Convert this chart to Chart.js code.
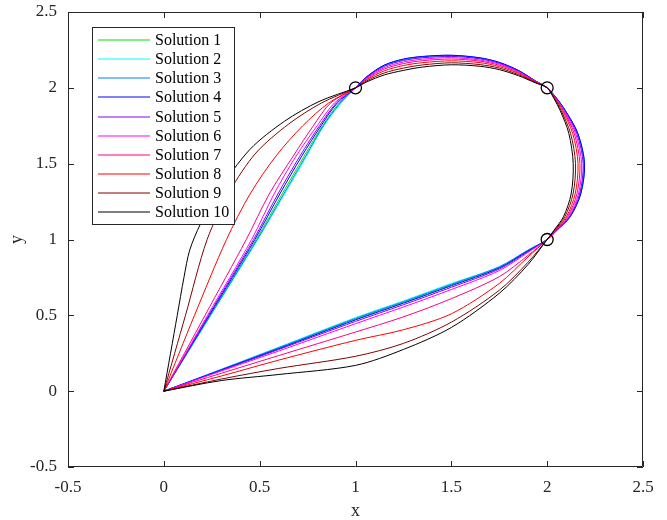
<!DOCTYPE html>
<html>
<head>
<meta charset="utf-8">
<script src="https://cdn.jsdelivr.net/npm/chart.js@4.4.1/dist/chart.umd.min.js"></script>
<style>
  html, body { margin: 0; padding: 0; background: #fff; }
  #wrap { width: 667px; height: 520px; }
</style>
</head>
<body>
<div id="wrap"><canvas id="pathChart"></canvas></div>
<script>
// Ten candidate paths through the waypoints, each as [x, y] pairs:
// start at the origin, up to (1,2), over the top to (2,2), round to (2,1), back to the origin.
const solution1 = [[0,0],[0.24,0.5],[0.482,1.0],[0.617,1.3],[0.732,1.55],[0.828,1.75],[0.915,1.9],[1,2],
  [1.06,2.073],[1.15,2.145],[1.25,2.185],[1.35,2.202],[1.5,2.211],[1.65,2.194],[1.75,2.165],[1.85,2.113],[1.94,2.044],[2,2],
  [2.049,1.93],[2.093,1.85],[2.157,1.7],[2.191,1.5],[2.172,1.3],[2.118,1.15],[2.049,1.06],[2,1],
  [1.9,0.925],[1.75,0.815],[1.5,0.70],[1.25,0.585],[1.0,0.475],[0.6,0.283],[0.3,0.141],[0,0]];
const solution2 = [[0,0],[0.245,0.5],[0.49,1.0],[0.63,1.3],[0.745,1.55],[0.835,1.75],[0.925,1.9],[1,2],
  [1.06,2.074],[1.15,2.147],[1.25,2.187],[1.35,2.204],[1.5,2.212],[1.65,2.196],[1.75,2.166],[1.85,2.114],[1.94,2.044],[2,2],
  [2.05,1.93],[2.094,1.85],[2.159,1.7],[2.193,1.5],[2.174,1.3],[2.119,1.15],[2.05,1.06],[2,1],
  [1.9,0.93],[1.75,0.82],[1.5,0.71],[1.25,0.595],[1.0,0.485],[0.6,0.29],[0.3,0.145],[0,0]];
const solution3 = [[0,0],[0.243,0.5],[0.487,1.0],[0.625,1.3],[0.74,1.55],[0.832,1.75],[0.92,1.9],[1,2],
  [1.06,2.074],[1.15,2.149],[1.25,2.188],[1.35,2.206],[1.5,2.214],[1.65,2.197],[1.75,2.167],[1.85,2.114],[1.94,2.045],[2,2],
  [2.05,1.93],[2.095,1.85],[2.16,1.7],[2.195,1.5],[2.175,1.3],[2.12,1.15],[2.05,1.06],[2,1],
  [1.9,0.93],[1.75,0.82],[1.5,0.705],[1.25,0.59],[1.0,0.48],[0.6,0.287],[0.3,0.143],[0,0]];
const solution4 = [[0,0],[0.237,0.5],[0.475,1.0],[0.605,1.3],[0.72,1.55],[0.82,1.75],[0.905,1.9],[1,2],
  [1.06,2.075],[1.15,2.15],[1.25,2.19],[1.35,2.207],[1.5,2.215],[1.65,2.198],[1.75,2.168],[1.85,2.115],[1.94,2.045],[2,2],
  [2.05,1.93],[2.095,1.85],[2.16,1.7],[2.195,1.5],[2.175,1.3],[2.12,1.15],[2.05,1.06],[2,1],
  [1.9,0.925],[1.75,0.812],[1.5,0.695],[1.25,0.58],[1.0,0.47],[0.6,0.28],[0.3,0.14],[0,0]];
const solution5 = [[0,0],[0.233,0.5],[0.468,1.0],[0.595,1.3],[0.71,1.55],[0.812,1.75],[0.90,1.9],[1,2],
  [1.06,2.07],[1.15,2.142],[1.25,2.18],[1.35,2.198],[1.5,2.207],[1.65,2.191],[1.75,2.162],[1.85,2.11],[1.94,2.043],[2,2],
  [2.048,1.93],[2.092,1.85],[2.154,1.7],[2.188,1.5],[2.169,1.3],[2.116,1.15],[2.048,1.06],[2,1],
  [1.9,0.92],[1.75,0.805],[1.5,0.685],[1.25,0.57],[1.0,0.46],[0.6,0.275],[0.3,0.137],[0,0]];
const solution6 = [[0,0],[0.228,0.5],[0.458,1.0],[0.575,1.3],[0.69,1.55],[0.80,1.75],[0.89,1.9],[1,2],
  [1.06,2.066],[1.15,2.133],[1.25,2.17],[1.35,2.189],[1.5,2.199],[1.65,2.183],[1.75,2.156],[1.85,2.106],[1.94,2.042],[2,2],
  [2.046,1.93],[2.088,1.85],[2.148,1.7],[2.18,1.5],[2.163,1.3],[2.111,1.15],[2.046,1.06],[2,1],
  [1.9,0.915],[1.75,0.795],[1.5,0.67],[1.25,0.555],[1.0,0.445],[0.6,0.265],[0.3,0.133],[0,0]];
const solution7 = [[0,0],[0.215,0.5],[0.43,1.0],[0.55,1.3],[0.675,1.55],[0.78,1.75],[0.87,1.9],[1,2],
  [1.06,2.061],[1.15,2.124],[1.25,2.16],[1.35,2.179],[1.5,2.19],[1.65,2.176],[1.75,2.149],[1.85,2.101],[1.94,2.04],[2,2],
  [2.044,1.93],[2.084,1.85],[2.141,1.7],[2.171,1.5],[2.155,1.3],[2.106,1.15],[2.044,1.06],[2,1],
  [1.9,0.895],[1.75,0.755],[1.5,0.61],[1.25,0.49],[1.0,0.39],[0.6,0.235],[0.3,0.118],[0,0]];
const solution8 = [[0,0],[0.16,0.5],[0.327,1.0],[0.45,1.3],[0.585,1.55],[0.725,1.75],[0.86,1.9],[1,2],
  [1.06,2.055],[1.15,2.112],[1.25,2.147],[1.35,2.166],[1.5,2.178],[1.65,2.166],[1.75,2.14],[1.85,2.095],[1.94,2.037],[2,2],
  [2.041,1.93],[2.079,1.85],[2.133,1.7],[2.161,1.5],[2.146,1.3],[2.1,1.15],[2.041,1.06],[2,1],
  [1.9,0.885],[1.75,0.71],[1.5,0.51],[1.25,0.405],[1.0,0.335],[0.6,0.205],[0.3,0.10],[0,0]];
const solution9 = [[0,0],[0.113,0.5],[0.226,1.0],[0.345,1.32],[0.48,1.57],[0.65,1.76],[0.822,1.9],[1,2],
  [1.06,2.047],[1.15,2.098],[1.25,2.13],[1.35,2.151],[1.5,2.165],[1.65,2.153],[1.75,2.13],[1.85,2.087],[1.94,2.035],[2,2],
  [2.038,1.93],[2.073,1.85],[2.122,1.7],[2.148,1.5],[2.135,1.3],[2.092,1.15],[2.038,1.06],[2,1],
  [1.9,0.85],[1.75,0.665],[1.5,0.455],[1.25,0.315],[1.0,0.23],[0.6,0.15],[0.3,0.08],[0,0]];
const solution10 = [[0,0],[0.07,0.5],[0.105,0.75],[0.135,0.93],[0.19,1.10],[0.28,1.31],[0.45,1.595],[0.63,1.78],[0.81,1.91],[1,2],
  [1.06,2.04],[1.15,2.085],[1.25,2.115],[1.35,2.137],[1.5,2.152],[1.65,2.142],[1.75,2.12],[1.85,2.08],[1.94,2.032],[2,2],
  [2.035,1.93],[2.068,1.85],[2.113,1.7],[2.136,1.5],[2.125,1.3],[2.085,1.15],[2.035,1.06],[2,1],
  [1.9,0.835],[1.75,0.645],[1.5,0.42],[1.25,0.275],[1.0,0.17],[0.6,0.11],[0.3,0.07],[0,0]];

const waypoints = [[1,2],[2,2],[2,1]];

const solutions = [solution1, solution2, solution3, solution4, solution5,
                   solution6, solution7, solution8, solution9, solution10];
const solutionLabels = ['Solution 1','Solution 2','Solution 3','Solution 4','Solution 5',
                        'Solution 6','Solution 7','Solution 8','Solution 9','Solution 10'];
const solutionColors = ['#00e000','#00ffff','#0080ff','#0000ff','#8000ff',
                        '#ff00ff','#ff0080','#ff0000','#800000','#000000'];

const axisTicks = [-0.5, 0, 0.5, 1, 1.5, 2, 2.5];

const serif = '"Liberation Serif", "Times New Roman", serif';
const axisInk = '#262626';

const toXY = pts => pts.map(p => ({ x: p[0], y: p[1] }));

const datasets = solutions.map((pts, i) => ({
  label: solutionLabels[i],
  data: toXY(pts),
  showLine: true,
  borderColor: solutionColors[i],
  backgroundColor: solutionColors[i],
  borderWidth: 1,
  pointRadius: 0,
  tension: 0.3,
  order: solutions.length - i   // later solutions sit on top
}));

datasets.push({
  label: 'waypoints',
  data: toXY(waypoints),
  showLine: false,
  pointStyle: 'circle',
  pointRadius: 6,
  pointBorderWidth: 1.3,
  pointBorderColor: '#000',
  pointBackgroundColor: 'rgba(0,0,0,0)',
  order: 0
});

// box round the plot with inward ticks on all four sides
const boxedAxes = {
  id: 'boxedAxes',
  afterDatasetsDraw(chart) {
    const { ctx, chartArea: a, scales: { x, y } } = chart;
    const len = 6;
    ctx.save();
    ctx.strokeStyle = axisInk;
    ctx.lineWidth = 1;
    ctx.beginPath();
    ctx.rect(a.left + 0.5, a.top + 0.5, a.right - a.left - 1, a.bottom - a.top - 1);
    x.ticks.forEach(t => {
      const px = Math.round(x.getPixelForValue(t.value)) + 0.5;
      ctx.moveTo(px, a.bottom); ctx.lineTo(px, a.bottom - len);
      ctx.moveTo(px, a.top); ctx.lineTo(px, a.top + len);
    });
    y.ticks.forEach(t => {
      const py = Math.round(y.getPixelForValue(t.value)) + 0.5;
      ctx.moveTo(a.left, py); ctx.lineTo(a.left + len, py);
      ctx.moveTo(a.right, py); ctx.lineTo(a.right - len, py);
    });
    ctx.stroke();
    ctx.restore();
  }
};

// legend box in the upper-left corner of the plot
const insetLegend = {
  id: 'insetLegend',
  afterDraw(chart) {
    const { ctx, chartArea: a } = chart;
    const left = a.left + 24, top = a.top + 15, w = 142, h = 197;
    const row = 19.15, first = 13;
    ctx.save();
    ctx.fillStyle = '#fff';
    ctx.fillRect(left, top, w, h);
    ctx.strokeStyle = axisInk;
    ctx.lineWidth = 1;
    ctx.strokeRect(left + 0.5, top + 0.5, w, h);
    ctx.font = '16px ' + serif;
    ctx.textBaseline = 'middle';
    ctx.textAlign = 'left';
    chart.data.datasets.forEach((ds, i) => {
      if (!solutionLabels.includes(ds.label)) return;
      const yy = Math.round(top + first + i * row);
      ctx.strokeStyle = ds.borderColor;
      ctx.beginPath();
      ctx.moveTo(left + 6, yy);
      ctx.lineTo(left + 58, yy);
      ctx.stroke();
      ctx.fillStyle = '#000';
      ctx.fillText(ds.label, left + 63, yy + 0.5);
    });
    ctx.restore();
  }
};

new Chart(document.getElementById('pathChart'), {
  type: 'scatter',
  data: { datasets },
  options: {
    responsive: true,
    maintainAspectRatio: false,
    animation: false,
    layout: { autoPadding: false, padding: { top: 12, right: 24, left: 0, bottom: 0 } },
    plugins: {
      legend: { display: false },
      tooltip: { enabled: false }
    },
    scales: {
      x: {
        type: 'linear',
        min: axisTicks[0],
        max: axisTicks[axisTicks.length - 1],
        afterBuildTicks: s => { s.ticks = axisTicks.map(v => ({ value: v })); },
        afterFit: s => { s.height = 53; s.paddingLeft = 0; s.paddingRight = 0; },
        grid: { display: false, drawTicks: false },
        border: { display: false },
        ticks: {
          padding: 10,
          color: axisInk,
          maxRotation: 0,
          autoSkip: false,
          font: { family: serif, size: 17 },
          callback: v => String(v)
        },
        title: {
          display: true,
          text: 'x',
          color: axisInk,
          font: { family: serif, size: 18, lineHeight: 1 },
          padding: { top: 0, bottom: 0 }
        }
      },
      y: {
        type: 'linear',
        min: axisTicks[0],
        max: axisTicks[axisTicks.length - 1],
        afterBuildTicks: s => { s.ticks = axisTicks.map(v => ({ value: v })); },
        afterFit: s => { s.width = 68; s.paddingTop = 0; s.paddingBottom = 0; },
        grid: { display: false, drawTicks: false },
        border: { display: false },
        ticks: {
          padding: 11,
          color: axisInk,
          autoSkip: false,
          font: { family: serif, size: 17 },
          callback: v => String(v)
        },
        title: {
          display: true,
          text: 'y',
          color: axisInk,
          font: { family: serif, size: 18 },
          padding: { top: 6, bottom: 0 }
        }
      }
    }
  },
  plugins: [boxedAxes, insetLegend]
});
</script>
</body>
</html>
